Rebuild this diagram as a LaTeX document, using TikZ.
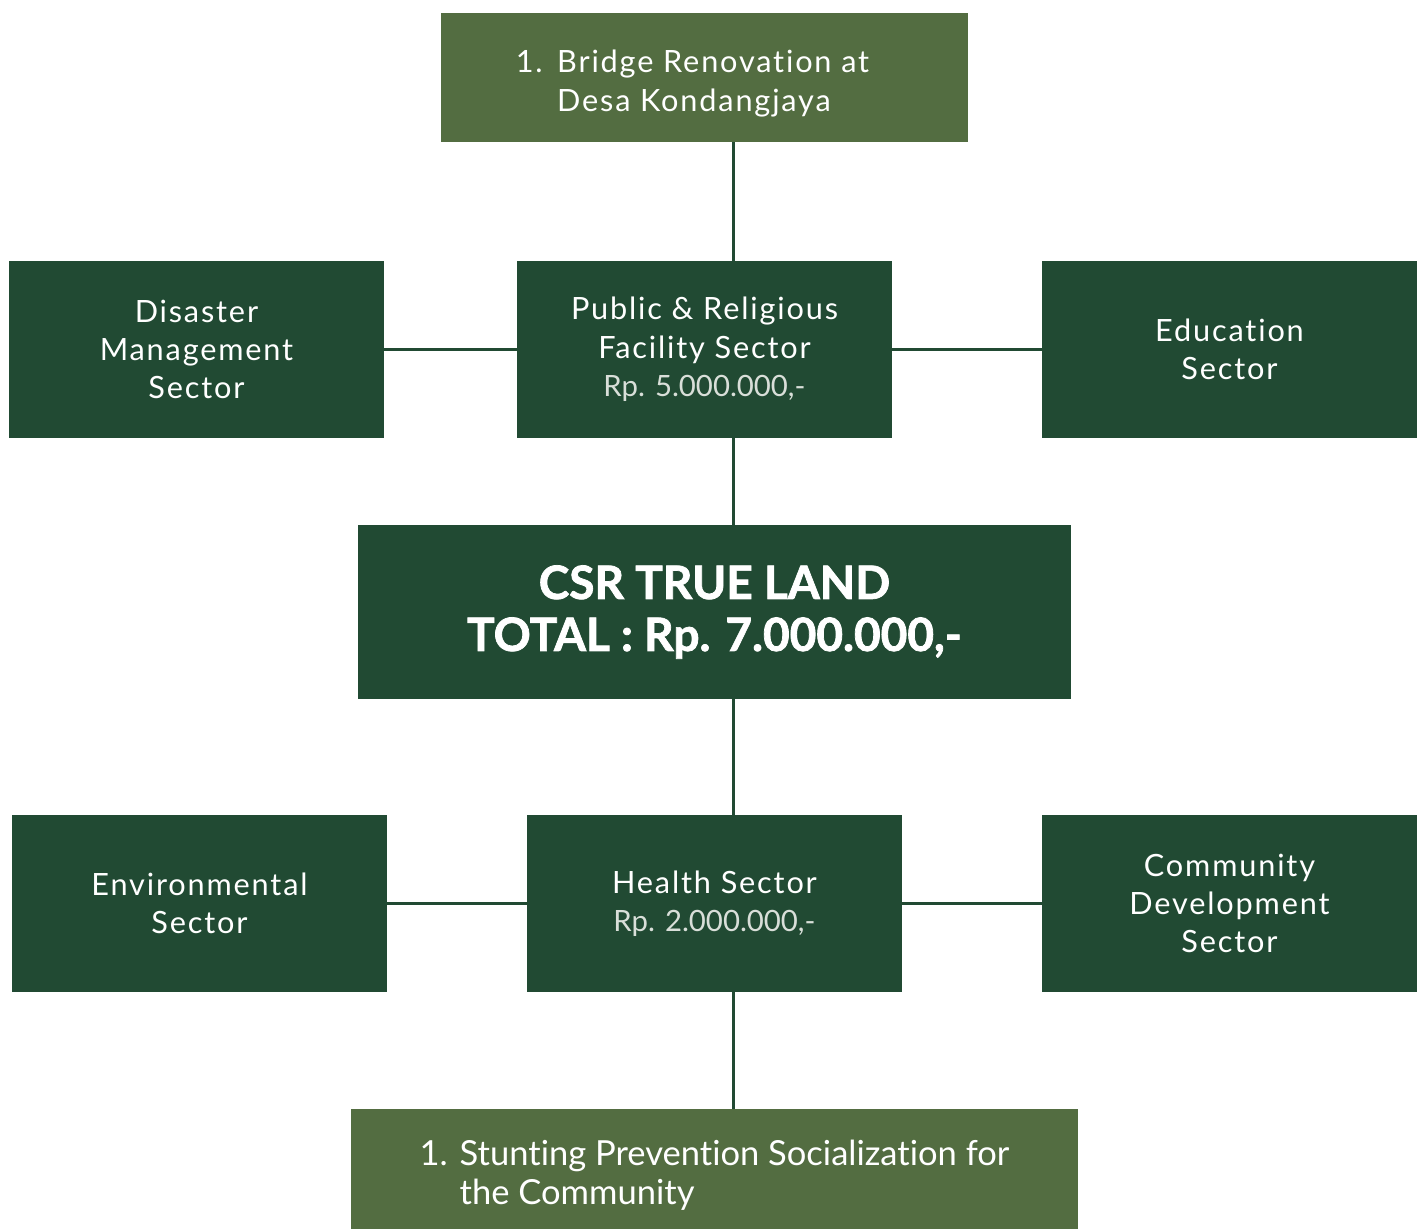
\documentclass[tikz,border=0pt]{standalone}
\usepackage{fontspec}
\setmainfont{Lato}[LetterSpace=6,RawFeature=-liga]
\newfontfamily\plainfont{Lato}[RawFeature=-liga]
\newfontfamily\heavyfont{Lato}[BoldFeatures={FakeBold=1.6}]
\definecolor{dkgreen}{HTML}{214A33}
\definecolor{ltgreen}{HTML}{536D41}
\definecolor{rpgrey}{HTML}{D9DFD9}
\newcommand{\amount}[1]{{\plainfont\fontsize{22pt}{28.8pt}\selectfont\color{rpgrey}#1}}
\begin{document}
\begin{tikzpicture}[x=0.75pt,y=-0.75pt,
  box/.style={fill=dkgreen, text=white, align=center, inner sep=0pt,
    font=\fontsize{23pt}{28.8pt}\selectfont},
  sector/.style={box, minimum width=281.25pt, minimum height=132.75pt},
  itembox/.style={box, fill=ltgreen, align=left},
  conn/.style={draw=dkgreen, line width=2.25pt}]
\useasboundingbox[fill=white] (0,0) rectangle (1422,1229);
\coordinate (vx) at (733,0);
\node[itembox, minimum width=395.25pt, minimum height=96.75pt] (top) at (704.5,77.5)
  {\rule{0pt}{26pt}\makebox[31pt][l]{1.}Bridge Renovation at\hspace*{18pt}\\\hspace*{31pt}Desa Kondangjaya};
\node[sector] (dis) at (196.5,349.5) {Disaster\\Management\\Sector};
\node[sector] (pub) at (704.5,349.5) {Public \& Religious\\Facility Sector\\\amount{Rp. 5.000.000,-}};
\node[sector] (edu) at (1229.5,349.5) {Education\\Sector};
\node[box, minimum width=534.75pt, minimum height=130.5pt,
  font=\heavyfont\bfseries\fontsize{34.5pt}{39pt}\selectfont] (csr) at (714.5,612)
  {CSR TRUE LAND\\TOTAL : Rp. 7.000.000,-};
\node[sector] (env) at (199.5,903.5) {Environmental\\Sector};
\node[sector] (hea) at (714.5,903.5) {Health Sector\\\amount{Rp. 2.000.000,-}};
\node[sector] (com) at (1229.5,903.5) {Community\\Development\\Sector};
\node[itembox, minimum width=545.25pt, minimum height=90pt,
  font=\plainfont\fontsize{25.9pt}{29.25pt}\selectfont] (bot) at (714.5,1169)
  {\rule{0pt}{29pt}\makebox[30pt][l]{1.}Stunting Prevention Socialization for\\\hspace*{30pt}the Community};
\draw[conn] (top.south -| vx) -- (pub.north -| vx);
\draw[conn] (pub.south -| vx) -- (csr.north -| vx);
\draw[conn] (csr.south -| vx) -- (hea.north -| vx);
\draw[conn] (hea.south -| vx) -- (bot.north -| vx);
\draw[conn] (dis.east) -- (pub.west);
\draw[conn] (pub.east) -- (edu.west);
\draw[conn] (env.east) -- (hea.west);
\draw[conn] (hea.east) -- (com.west);
\end{tikzpicture}
\end{document}
